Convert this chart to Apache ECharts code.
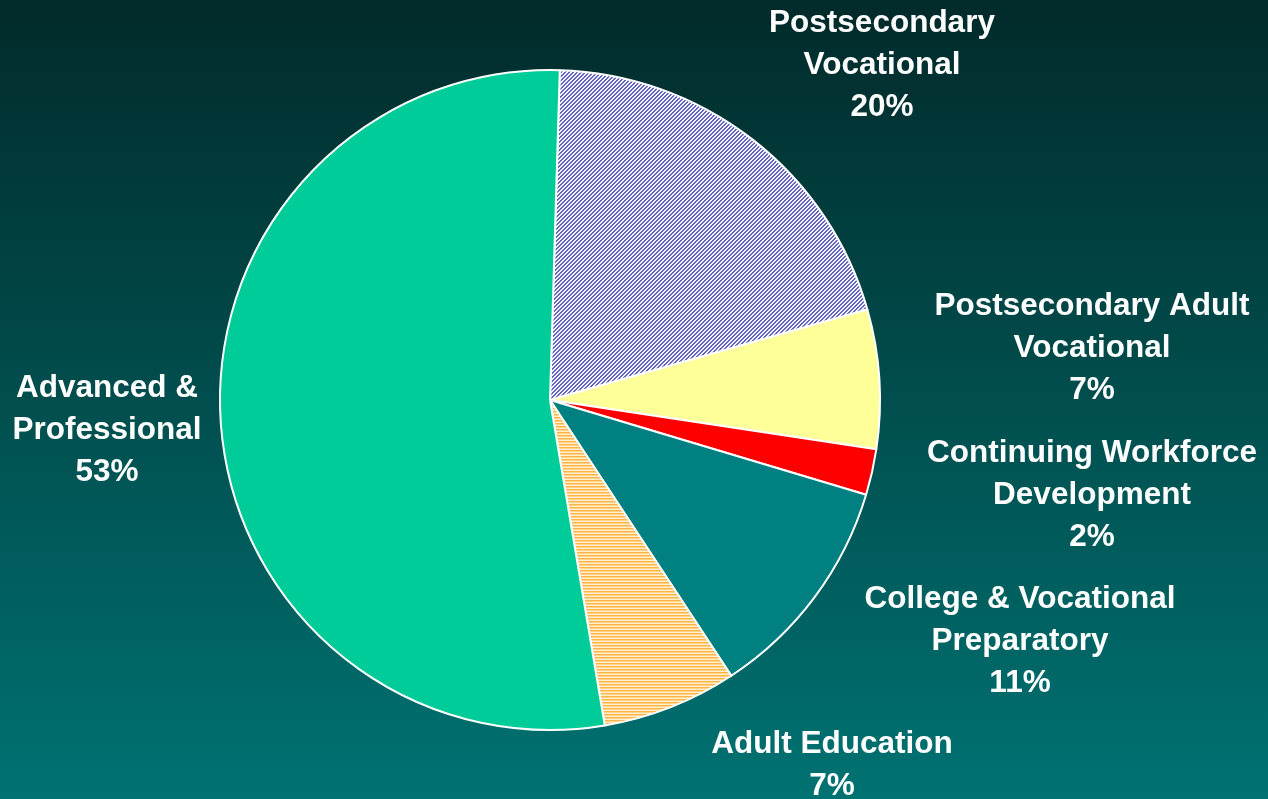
<!DOCTYPE html>
<html>
<head>
<meta charset="utf-8">
<script src="https://cdn.jsdelivr.net/npm/echarts@6/dist/echarts.min.js"></script>
<style>
html,body{margin:0;padding:0;width:1268px;height:799px;overflow:hidden;}
#c{width:1268px;height:799px;}
</style>
</head>
<body>
<div id="c"></div>
<script>
var categories = [
  "Postsecondary\nVocational",
  "Postsecondary Adult\nVocational",
  "Continuing Workforce\nDevelopment",
  "College & Vocational\nPreparatory",
  "Adult Education",
  "Advanced &\nProfessional"
];
var values = [20.1, 6.8, 2.25, 11.1, 6.6, 53.1];

// label anchor layout (center x, top y of text block)
var labelAnchors = [[882, 2], [1092, 285], [1092, 432], [1020, 578], [832, 723], [107, 367]];

function makePattern(w, h, draw) {
  var cv = document.createElement('canvas');
  cv.width = w; cv.height = h;
  var ctx = cv.getContext('2d');
  draw(ctx);
  return cv;
}
var purplePattern = makePattern(4, 4, function (ctx) {
  ctx.fillStyle = '#f4f4ff'; ctx.fillRect(0, 0, 4, 4);
  ctx.fillStyle = '#6464c0';
  for (var x = 0; x < 4; x++) {
    for (var y = 0; y < 4; y++) {
      if ((x + y) % 4 < 2) ctx.fillRect(x, y, 1, 1);
    }
  }
});
var orangePattern = makePattern(4, 3, function (ctx) {
  ctx.fillStyle = '#ffb44a'; ctx.fillRect(0, 0, 4, 1);
  ctx.fillStyle = '#ffd38a'; ctx.fillRect(0, 1, 4, 1);
  ctx.fillStyle = '#fff0d0'; ctx.fillRect(0, 2, 4, 1);
});

var colors = [
  {image: purplePattern, repeat: 'repeat'},
  '#ffff99',
  '#ff0000',
  '#008080',
  {image: orangePattern, repeat: 'repeat'},
  '#00cc99'
];

var chart = echarts.init(document.getElementById('c'), null, {renderer: 'canvas'});
chart.setOption({
  animation: false,
  backgroundColor: {
    type: 'linear', x: 0, y: 0, x2: 0, y2: 1,
    colorStops: [{offset: 0, color: '#022a2a'}, {offset: 1, color: '#007272'}]
  },
  series: [{
    type: 'pie',
    center: [550, 400],
    radius: 330,
    startAngle: 88.3,
    clockwise: true,
    percentPrecision: 0,
    avoidLabelOverlap: false,
    itemStyle: {borderColor: '#ffffff', borderWidth: 2},
    emphasis: {disabled: true},
    label: {
      show: true,
      position: 'outside',
      formatter: '{b}\n{d}%',
      color: '#ffffff',
      fontFamily: '"Liberation Sans", Arial, sans-serif',
      fontWeight: 'bold',
      fontSize: 31.5,
      lineHeight: 42,
      align: 'center'
    },
    labelLine: {show: false},
    labelLayout: function (p) {
      var a = labelAnchors[p.dataIndex];
      return {x: a[0], y: a[1], align: 'center', verticalAlign: 'top'};
    },
    data: categories.map(function (n, i) {
      return {name: n, value: values[i], itemStyle: {color: colors[i]}};
    })
  }]
});
</script>
</body>
</html>
